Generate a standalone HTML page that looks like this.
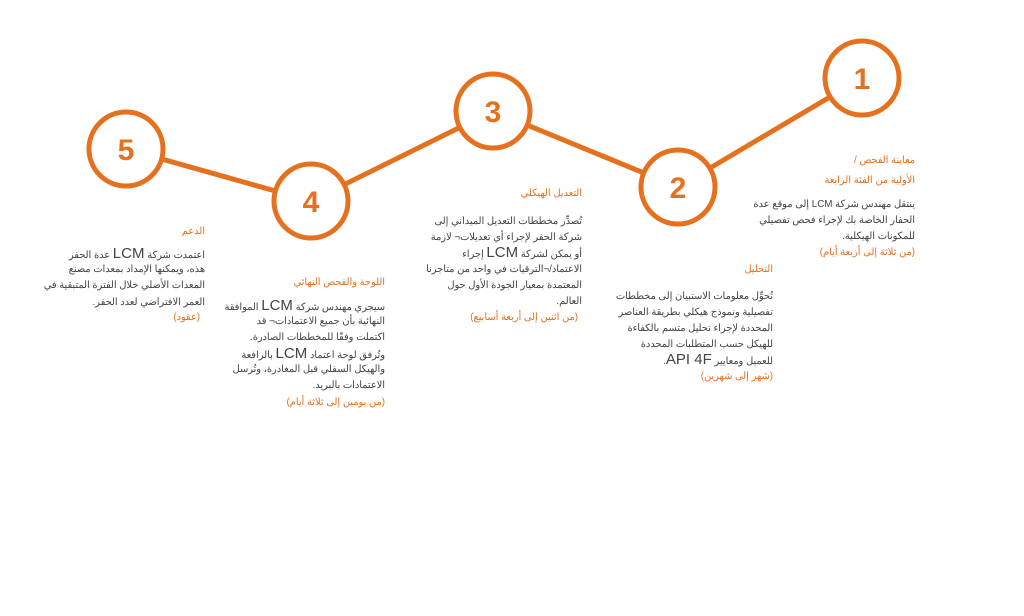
<!DOCTYPE html>
<html><head><meta charset="utf-8"><style>
body{margin:0;width:1024px;height:616px;background:#fff;position:relative;overflow:hidden;font-family:"Liberation Sans","Noto Sans CJK SC",sans-serif}
.l{position:absolute;direction:rtl;text-align:right;white-space:nowrap;font-size:9.8px;line-height:16px;color:#444}
.o{color:#e5711f}
.b{font-size:15px}
</style></head><body>
<svg width="1024" height="616" style="position:absolute;left:0;top:0">
<g stroke="#e5711f" stroke-width="5" fill="none">
<line x1="862" y1="78" x2="678" y2="187"/>
<line x1="678" y1="187" x2="493" y2="111"/>
<line x1="493" y1="111" x2="311" y2="201"/>
<line x1="311" y1="201" x2="126" y2="149"/>
</g>
<g stroke="#e5711f" stroke-width="5" fill="#fff">
<circle cx="862" cy="78" r="37"/>
<circle cx="678" cy="187" r="37"/>
<circle cx="493" cy="111" r="37"/>
<circle cx="311" cy="201" r="37"/>
<circle cx="126" cy="149" r="37"/>
</g>
<g fill="#e5711f" font-family="Liberation Sans" font-weight="bold" font-size="30" text-anchor="middle">
<text x="862" y="89">1</text>
<text x="678" y="198">2</text>
<text x="493" y="122">3</text>
<text x="311" y="212">4</text>
<text x="126" y="160">5</text>
</g>
</svg>

<div class="l o" style="right:109px;top:153px">معاينة الفحص /</div>
<div class="l o" style="right:109px;top:173px">الأولية من الفئة الرابعة</div>
<div class="l" style="right:109px;top:197px">ينتقل مهندس شركة LCM إلى موقع عدة</div>
<div class="l" style="right:109px;top:213px">الحفار الخاصة بك لإجراء فحص تفصيلي</div>
<div class="l" style="right:109px;top:229px">للمكونات الهيكلية.</div>
<div class="l o" style="right:109px;top:245px">(من ثلاثة إلى أربعة أيام)</div>

<div class="l o" style="right:251px;top:262px">التحليل</div>
<div class="l" style="right:251px;top:289px">تُحوِّل معلومات الاستبيان إلى مخططات</div>
<div class="l" style="right:251px;top:305px">تفصيلية ونموذج هيكلي بطريقة العناصر</div>
<div class="l" style="right:251px;top:321px">المحددة لإجراء تحليل متسم بالكفاءة</div>
<div class="l" style="right:251px;top:337px">للهيكل حسب المتطلبات المحددة</div>
<div class="l" style="right:251px;top:352px">للعميل ومعايير <span class="b">API 4F</span>.</div>
<div class="l o" style="right:251px;top:369px">(شهر إلى شهرين)</div>

<div class="l o" style="right:442px;top:186px">التعديل الهيكلي</div>
<div class="l" style="right:442px;top:214px">تُصدِّر مخططات التعديل الميداني إلى</div>
<div class="l" style="right:442px;top:230px">شركة الحفر لإجراء أي تعديلات¬ لازمة</div>
<div class="l" style="right:442px;top:245px">أو يمكن لشركة <span class="b">LCM</span> إجراء</div>
<div class="l" style="right:442px;top:262px">الاعتماد/¬الترقيات في واحد من متاجرنا</div>
<div class="l" style="right:442px;top:278px">المعتمدة بمعيار الجودة الأول حول</div>
<div class="l" style="right:442px;top:294px">العالم.</div>
<div class="l o" style="right:446px;top:310px">(من اثنين إلى أربعة أسابيع)</div>

<div class="l o" style="right:639px;top:275px">اللوحة والفحص النهائي</div>
<div class="l" style="right:639px;top:298px">سيجري مهندس شركة <span class="b">LCM</span> الموافقة</div>
<div class="l" style="right:639px;top:314px">النهائية بأن جميع الاعتمادات¬ قد</div>
<div class="l" style="right:639px;top:330px">اكتملت وفقًا للمخططات الصادرة.</div>
<div class="l" style="right:639px;top:346px">وتُرفق لوحة اعتماد <span class="b">LCM</span> بالرافعة</div>
<div class="l" style="right:639px;top:362px">والهيكل السفلي قبل المغادرة، وتُرسل</div>
<div class="l" style="right:639px;top:378px">الاعتمادات بالبريد.</div>
<div class="l o" style="right:639px;top:395px">(من يومين إلى ثلاثة أيام)</div>

<div class="l o" style="right:819px;top:224px">الدعم</div>
<div class="l" style="right:819px;top:246px">اعتمدت شركة <span class="b">LCM</span> عدة الحفر</div>
<div class="l" style="right:819px;top:262px">هذه، ويمكنها الإمداد بمعدات مصنع</div>
<div class="l" style="right:819px;top:278px">المعدات الأصلي خلال الفترة المتبقية في</div>
<div class="l" style="right:819px;top:295px">العمر الافتراضي لعدد الحفر.</div>
<div class="l o" style="right:824px;top:310px">(عقود)</div>
</body></html>
